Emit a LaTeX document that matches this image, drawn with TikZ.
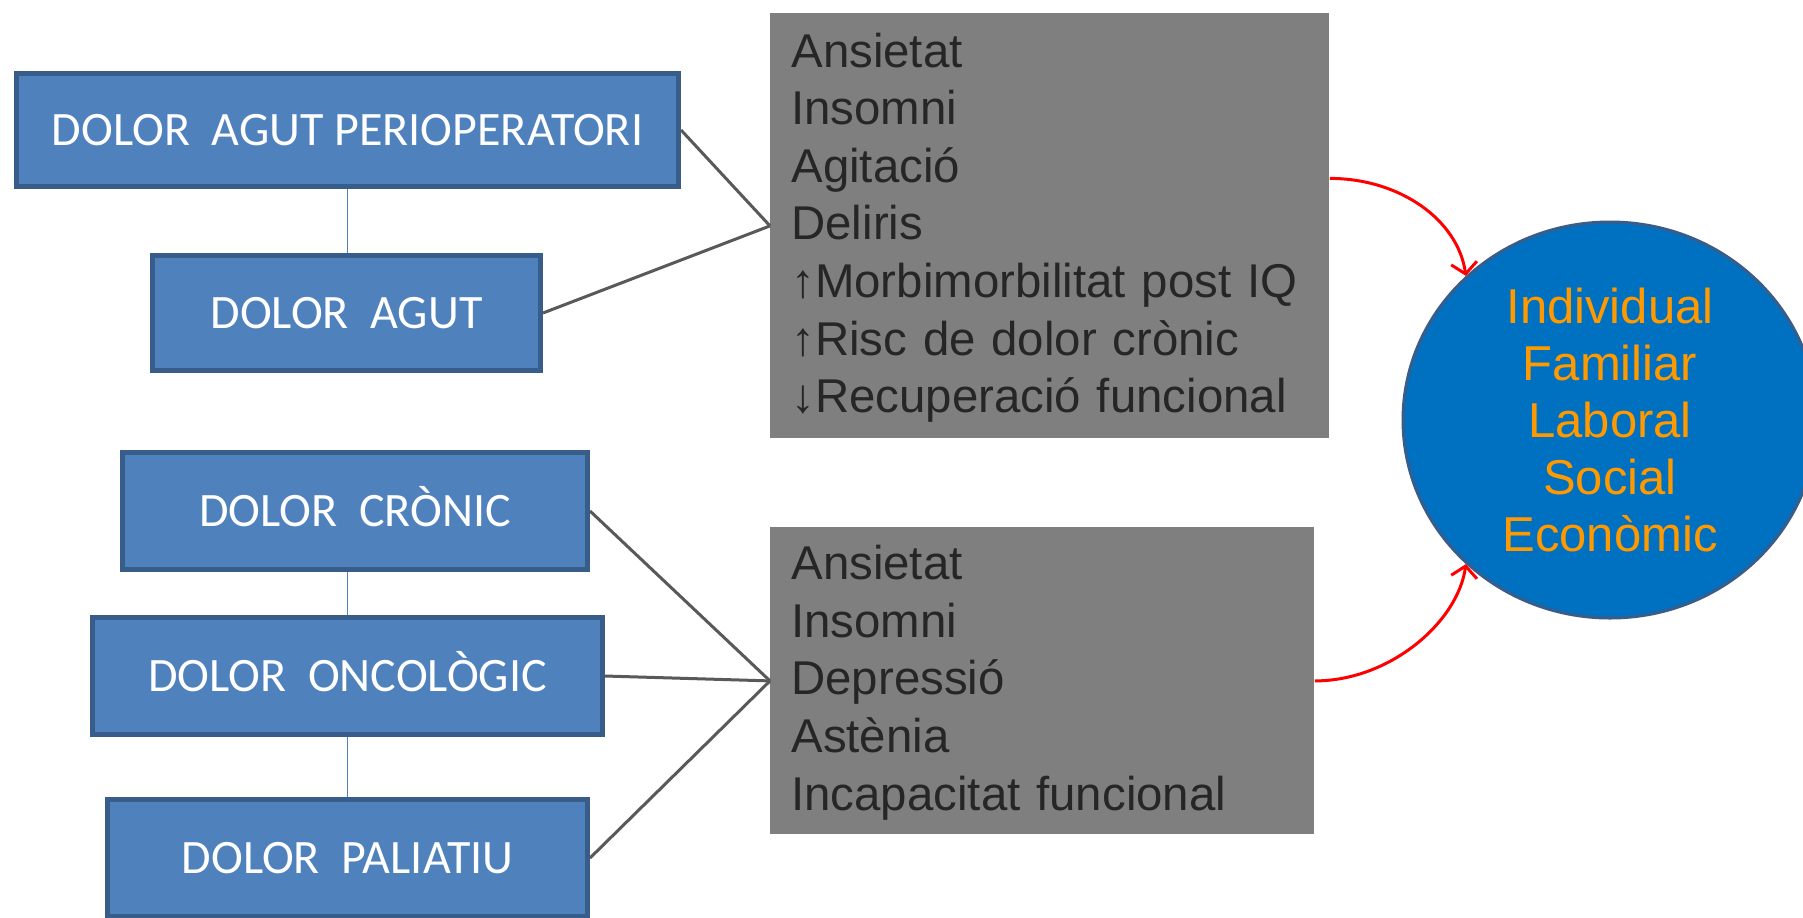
\documentclass[tikz,border=0pt]{standalone}
\usepackage{fontspec}
\setmainfont{Liberation Sans}
\newfontfamily\calib{Carlito}
\usetikzlibrary{shapes.geometric,arrows.meta}
\definecolor{boxfill}{RGB}{79,129,189}
\definecolor{boxline}{RGB}{56,93,138}
\definecolor{grayfill}{RGB}{127,127,127}
\definecolor{graytext}{RGB}{38,38,38}
\definecolor{circfill}{RGB}{0,112,192}
\definecolor{orangetext}{RGB}{255,153,0}
\definecolor{conn}{RGB}{89,89,89}
\definecolor{redline}{RGB}{255,0,0}
\begin{document}
\begin{tikzpicture}[x=0.5pt,y=-0.5pt,
  dolor/.style={draw=boxline, line width=2.5pt, fill=boxfill, text=white,
    font=\calib\fontsize{24}{28}\selectfont, inner sep=0pt,
    text height=15.5pt, text depth=0pt},
  efecte/.style={fill=grayfill, text=graytext, font=\fontsize{23.7}{28.8}\selectfont,
    align=left, anchor=north west, inner xsep=10.5pt, inner ysep=0pt},
  lligam/.style={draw=conn, line width=1.5pt},
  fil/.style={draw=boxfill, line width=0.8pt},
  fletxa/.style={draw=redline, line width=1.5pt, -{Straight Barb[length=5.5pt,width=13pt]}}
]
\clip (0,0) rectangle (1803,917);
\fill[white] (0,0) rectangle (1803,917);

% blue boxes
\node[dolor, minimum width=331pt, minimum height=56.5pt] (b1) at (347.5,130) {DOLOR~~AGUT PERIOPERATORI};
\node[dolor, minimum width=194pt, minimum height=57.5pt] (b2) at (346.5,313) {DOLOR~~AGUT};
\node[dolor, minimum width=232.5pt, minimum height=58.5pt] (b3) at (355,511) {DOLOR~~CRÒNIC};
\node[dolor, minimum width=255pt, minimum height=58.5pt] (b4) at (347.5,676) {DOLOR~~ONCOLÒGIC};
\node[dolor, minimum width=240pt, minimum height=58.5pt] (b5) at (347.5,858) {DOLOR~~PALIATIU};

% thin blue links
\draw[fil] (b1.south) -- (b1.south |- b2.north);
\draw[fil] (b4.north |- b3.south) -- (b4.north);
\draw[fil] (b4.south) -- (b4.south |- b5.north);

% gray boxes
\node[efecte, text width=258.5pt, minimum height=212.5pt] (g1) at (770,13)
  {\rule{0pt}{19pt}Ansietat\\Insomni\\Agitació\\Deliris\\↑Morbimorbilitat post IQ\\↑Risc de dolor crònic\\↓Recuperació funcional};
\node[efecte, text width=251pt, minimum height=153.5pt] (g2) at (770,527)
  {\rule{0pt}{19pt}Ansietat\\Insomni\\Depressió\\Astènia\\Incapacitat funcional};

% circle
\node[ellipse, minimum width=207pt, minimum height=198pt, inner sep=0pt,
  fill=circfill, draw=boxline, line width=1.5pt, align=center, text=orangetext,
  font=\fontsize{24.5}{28.5}\selectfont] (c) at (1610,420)
  {Individual\\Familiar\\Laboral\\Social\\Econòmic};

% connectors
\draw[lligam] (b1.east) -- (g1.west);
\draw[lligam] (b2.east) -- (g1.west);
\draw[lligam] (b3.east) -- (g2.west);
\draw[lligam] (b4.east) -- (g2.west);
\draw[lligam] (b5.east) -- (g2.west);

% red arrows
\draw[fletxa] ([yshift=23.75pt]g1.east) .. controls +(70,0) and +(-8,-56) .. (c.135);
\draw[fletxa] (g2.east) .. controls +(75,0) and +(-8,58) .. (c.225);
\end{tikzpicture}
\end{document}
